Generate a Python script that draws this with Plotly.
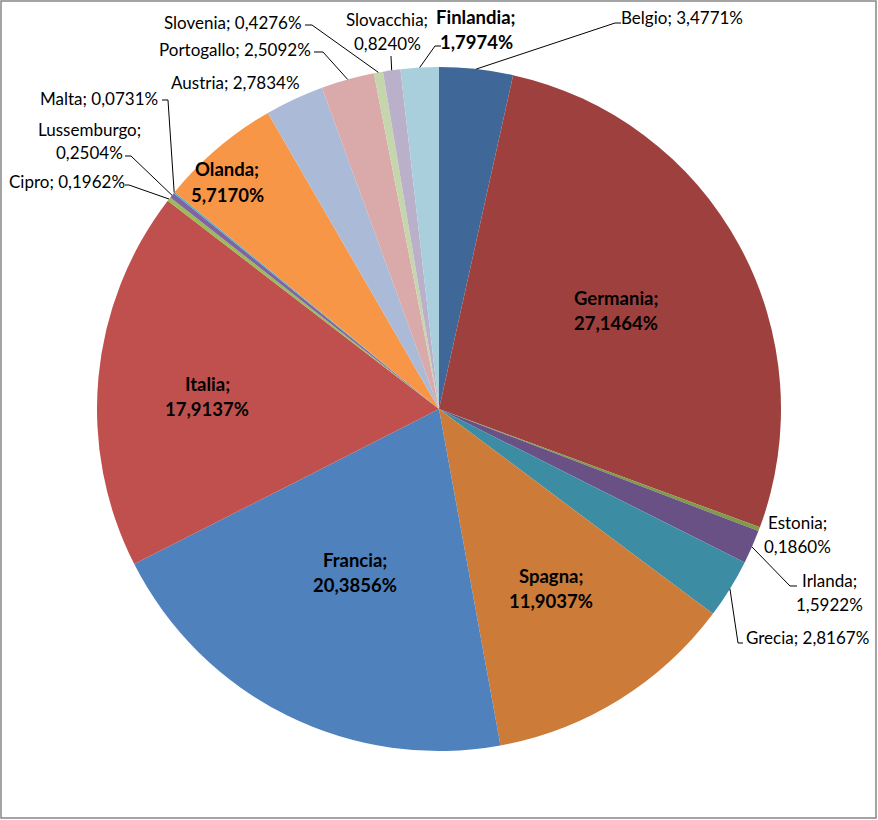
import math
import plotly.graph_objects as go

W, H = 878, 820

paesi = ["Belgio", "Germania", "Estonia", "Irlanda", "Grecia", "Spagna", "Francia",
         "Italia", "Cipro", "Lussemburgo", "Malta", "Olanda", "Austria", "Portogallo",
         "Slovenia", "Slovacchia", "Finlandia"]
quote = [3.4771, 27.1464, 0.1860, 1.5922, 2.8167, 11.9037, 20.3856,
         17.9137, 0.1962, 0.2504, 0.0731, 5.7170, 2.7834, 2.5092,
         0.4276, 0.8240, 1.7974]
colori = ["#3F6797", "#9E413E", "#7F9A48", "#695185", "#3C8DA3", "#CC7B38", "#4F81BD",
          "#C0504D", "#9BBB59", "#8064A2", "#4BACC6", "#F79646", "#AABAD7", "#D9AAA9",
          "#C6D6AC", "#BAB0C9", "#A9CEDC"]

# pie geometry in pixels
CX, CY, R = 439, 409, 342

# label placement: centre of text (px), two lines?, bold?, leader elbow points
etichette = {
    "Belgio":      (682, 17, False, False, [(615, 23), (621, 23)]),
    "Germania":    (616, 310, True, True, None),
    "Estonia":     (797, 534, True, False, None),
    "Irlanda":     (829, 592, True, False, [(790, 586), (797, 586)]),
    "Grecia":      (807, 637, False, False, [(738, 643), (743, 643)]),
    "Spagna":      (551, 588, True, True, None),
    "Francia":     (355, 572, True, True, None),
    "Italia":      (207, 396, True, True, None),
    "Cipro":       (67, 182, False, False, [(129, 185), (125, 185)]),
    "Lussemburgo": (89, 141, True, False, [(131, 156), (125, 156)]),
    "Malta":       (99, 98, False, False, [(168, 100), (162, 100)]),
    "Olanda":      (227, 182, True, True, None),
    "Austria":     (235, 83, False, False, None),
    "Portogallo":  (235, 49, False, False, [(323, 52), (314, 52)]),
    "Slovenia":    (233, 22, False, False, [(312, 25), (305, 25)]),
    "Slovacchia":  (387, 31, True, False, [(391, 56)]),
    "Finlandia":   (476, 29, True, True, [(435, 46), (441, 46)]),
}


def px(x, y):
    return x / W, 1 - y / H


fig = go.Figure(go.Pie(
    labels=paesi,
    values=quote,
    marker=dict(colors=colori, line=dict(width=0)),
    sort=False,
    direction="clockwise",
    rotation=0,
    textinfo="none",
    hoverinfo="label+percent",
    showlegend=False,
    domain=dict(x=[(CX - R) / W, (CX + R) / W], y=[1 - (CY + R) / H, 1 - (CY - R) / H]),
))

totale = sum(quote)
cum = 0
annotazioni = []
forme = []
for nome, v in zip(paesi, quote):
    mid = (cum + v / 2) / totale * 2 * math.pi
    cum += v
    cx, cy, due, grassetto, leader = etichette[nome]
    num = f"{v:.4f}".replace(".", ",") + "%"
    righe = [f"{nome};", num] if due else [f"{nome}; {num}"]
    passo = 25 if grassetto else 24
    dim = 18.5 if grassetto else 17
    for k, riga in enumerate(righe):
        y = cy + (k - (len(righe) - 1) / 2) * passo
        ax, ay = px(cx, y)
        annotazioni.append(dict(x=ax, y=ay, xref="paper", yref="paper",
                                text=f"<b>{riga}</b>" if grassetto else riga,
                                showarrow=False, xanchor="center", yanchor="middle",
                                font=dict(size=dim, color="#000000")))
    if leader:
        pts = [(CX + R * math.sin(mid), CY - R * math.cos(mid))] + leader
        path = ""
        for i, (x, y) in enumerate(pts):
            qx, qy = px(x, y)
            path += ("M" if i == 0 else " L") + f"{qx:.5f},{qy:.5f}"
        forme.append(dict(type="path", path=path, xref="paper", yref="paper",
                          line=dict(color="#000000", width=1)))

# chart frame
x0, y0 = px(1, 1)
x1, y1 = px(876, 818)
forme.append(dict(type="rect", x0=x0, y0=y1, x1=x1, y1=y0, xref="paper", yref="paper",
                  line=dict(color="#868686", width=1.5)))

fig.update_layout(
    width=W, height=H,
    margin=dict(l=0, r=0, t=0, b=0),
    paper_bgcolor="white",
    plot_bgcolor="white",
    font=dict(family="Lato, Calibri, sans-serif", size=17, color="#000000"),
    annotations=annotazioni,
    shapes=forme,
)

fig.write_html("out.html", config={"displayModeBar": False},
               post_script="document.body.style.margin='0';")
